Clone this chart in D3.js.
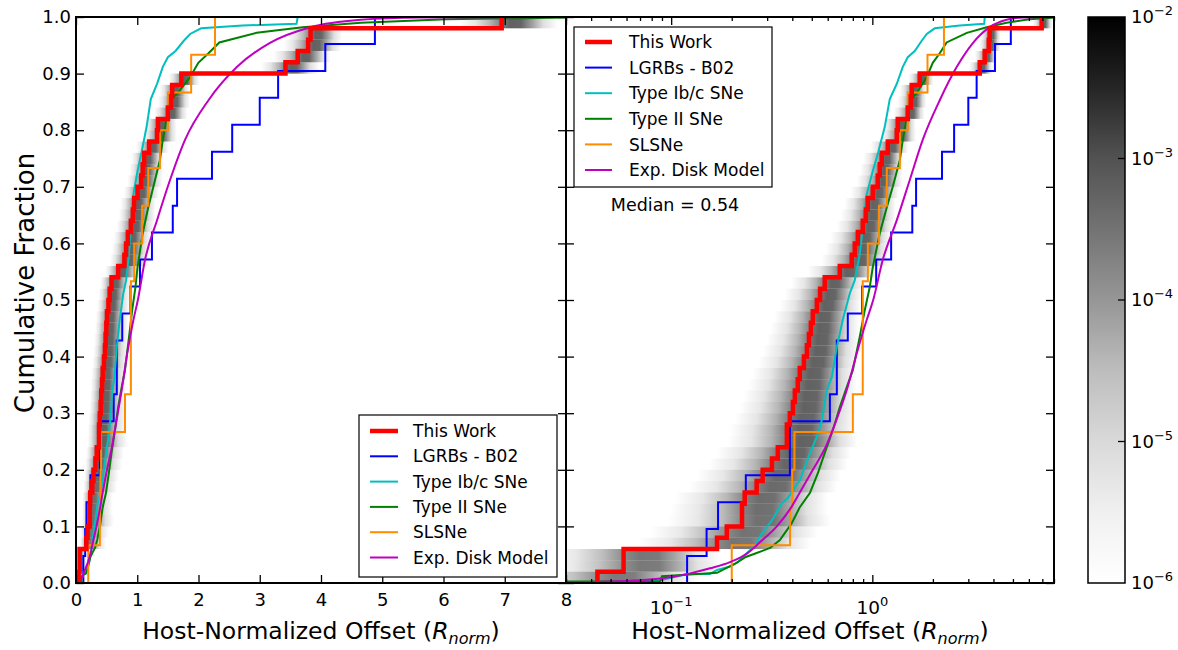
<!DOCTYPE html>
<html><head><meta charset="utf-8">
<script src="https://cdn.jsdelivr.net/npm/d3@7"></script>
<style>
body{margin:0;background:#fff;}
svg text{font-family:"DejaVu Sans","Liberation Sans",sans-serif;fill:#000;}
</style></head><body>
<svg id="c" width="1178" height="650"></svg>
<script>
// ---------------- data ----------------
const seriesNames = ["This Work","LGRBs - B02","Type Ib/c SNe","Type II SNe","SLSNe","Exp. Disk Model"];
// sorted offsets (R_norm) -> empirical CDFs
const thisWork = [0.043,0.058,0.058,0.169,0.189,0.225,0.225,0.232,0.266,0.285,0.317,0.339,0.376,0.376,0.389,0.403,0.412,0.426,0.436,0.457,0.473,0.484,0.495,0.506,0.53,0.55,0.58,0.689,0.79,0.818,0.847,0.896,0.928,0.949,1.005,1.064,1.089,1.114,1.194,1.323,1.338,1.50,1.552,1.570,1.72,3.42,3.62,3.79,3.83,6.95];
const lgrbB02 = [0.12,0.150,0.171,0.235,0.389,0.389,0.615,0.666,0.666,0.755,0.89,1.045,1.24,1.58,1.65,2.22,2.55,3.0,3.30,4.07,4.88];
const slsne = [0.20,0.39,0.40,0.41,0.80,0.896,0.896,0.896,0.95,1.08,1.18,1.37,1.50,1.88,2.27];
// [offset, cumulative fraction] pairs
const typeIbc = [[0.05,0],[0.088,0.005],[0.121,0.016],[0.156,0.016],[0.169,0.023],[0.196,0.029],[0.215,0.037],[0.227,0.046],[0.241,0.055],[0.261,0.066],[0.276,0.082],[0.299,0.099],[0.320,0.113],[0.339,0.129],[0.355,0.141],[0.380,0.150],[0.436,0.182],[0.489,0.229],[0.530,0.258],[0.561,0.288],[0.594,0.341],[0.629,0.364],[0.666,0.417],[0.713,0.465],[0.773,0.512],[0.818,0.535],[0.866,0.581],[0.938,0.687],[1.005,0.728],[1.064,0.758],[1.153,0.806],[1.221,0.855],[1.323,0.882],[1.417,0.912],[1.50,0.929],[1.625,0.94],[1.76,0.958],[1.864,0.970],[2.043,0.98],[2.72,0.985],[3.60,0.988],[3.62,1.0]];
const typeII = [[0.01,0.002],[0.088,0.003],[0.09,0.012],[0.169,0.018],[0.21,0.035],[0.235,0.046],[0.266,0.053],[0.31,0.062],[0.347,0.076],[0.37,0.09],[0.398,0.106],[0.436,0.134],[0.489,0.159],[0.536,0.194],[0.58,0.23],[0.636,0.27],[0.689,0.311],[0.746,0.346],[0.80,0.376],[0.866,0.435],[0.917,0.482],[0.971,0.523],[1.005,0.558],[1.089,0.618],[1.18,0.664],[1.263,0.70],[1.369,0.747],[1.417,0.783],[1.483,0.823],[1.535,0.853],[1.663,0.866],[1.864,0.894],[1.997,0.919],[2.163,0.936],[2.34,0.955],[2.95,0.972],[3.70,0.982],[4.65,0.99],[6.05,0.996],[8.0,0.999]];
const expDisk = [[0.03,0.001],[0.07,0.005],[0.102,0.011],[0.124,0.017],[0.156,0.026],[0.196,0.037],[0.238,0.052],[0.276,0.072],[0.335,0.1],[0.389,0.13],[0.436,0.16],[0.506,0.2],[0.594,0.245],[0.666,0.29],[0.746,0.341],[0.837,0.406],[0.938,0.465],[1.01,0.5],[1.127,0.571],[1.323,0.641],[1.535,0.712],[1.78,0.783],[2.163,0.853],[2.63,0.912],[3.16,0.954],[3.83,0.982],[4.65,0.995],[5.59,0.999],[8,1.0]];
const medianValue = 0.54;
// ticks
const yTicks = [0,0.1,0.2,0.3,0.4,0.5,0.6,0.7,0.8,0.9,1.0];
const xTicksLin = [0,1,2,3,4,5,6,7,8];
const xTicksLogMajor = [0.1,1];
const xTicksLogMajorLabels = ["\u22121","0"];
const xTicksLogMinor = [0.03,0.04,0.05,0.06,0.07,0.08,0.09,0.2,0.3,0.4,0.5,0.6,0.7,0.8,0.9,2,3,4,5,6,7,8];
const cbarTicks = [1e-2,1e-3,1e-4,1e-5,1e-6];
const cbarExps = ["\u22122","\u22123","\u22124","\u22125","\u22126"];

// ---------------- layout ----------------
const svg = d3.select("#c");
const TOP = 17, BOT = 583;
const xL = d3.scaleLinear().domain([0,8]).range([76,566]);
const xR = d3.scaleLog().domain([0.03,8]).range([566,1054]);
const y = d3.scaleLinear().domain([0,1]).range([BOT,TOP]);
const panels = [{id:"L",x:xL,x0:76,x1:566},{id:"R",x:xR,x0:566,x1:1054}];
const colors = ["#ff0000","#0000ff","#00bfbf","#008000","#ff8c00","#bf00bf"];
const widths = [4.5,2,2,2,2,2];

const defs = svg.append("defs");
panels.forEach(p=>{
  defs.append("clipPath").attr("id","clip"+p.id).append("rect")
    .attr("x",p.x0).attr("y",TOP).attr("width",p.x1-p.x0).attr("height",BOT-TOP);
});

const ecdf = vals => { const n = vals.length; const pts = [[vals[0],0]]; vals.forEach((v,i)=>pts.push([v,(i+1)/n])); return pts; };

// ---------------- Monte-Carlo cloud (grey cells around "This Work") ----------------
const dOff = [-0.3,-0.18,-0.08,0,0.06,0.13,0.2,0.27,0.36];
const dOp  = [0,0.12,0.35,0.62,0.74,0.72,0.45,0.15,0];
const N = thisWork.length;
panels.forEach(p=>{
  const g = svg.append("g").attr("clip-path",`url(#clip${p.id})`);
  thisWork.forEach((v,i)=>{
    const F = (i+1)/N, F0 = i/N;
    const s = 0.15 + 1.3*Math.pow(1-F,1.5);
    const fade = s>1 ? 1/Math.sqrt(s) : 1;
    const xs = dOff.map(d=>p.x(v*Math.pow(10,d*s)));
    const a = xs[0], b = xs[xs.length-1];
    if (b-a < 0.5) return;
    const gid = `gc${p.id}${i}`;
    const lg = defs.append("linearGradient").attr("id",gid).attr("gradientUnits","userSpaceOnUse")
      .attr("x1",a).attr("x2",b).attr("y1",0).attr("y2",0);
    xs.forEach((xx,j)=>lg.append("stop").attr("offset",(xx-a)/(b-a))
      .attr("stop-color","#2a2a2a").attr("stop-opacity",dOp[j]*fade));
    g.append("rect").attr("x",a).attr("width",b-a)
      .attr("y",y(F)).attr("height",y(F0)-y(F)).attr("fill",`url(#${gid})`);
  });
});

// ---------------- curves ----------------
const stepSeries = [[1,ecdf(lgrbB02),d3.curveStepAfter],[2,typeIbc,d3.curveLinear],[3,typeII,d3.curveLinear],
  [4,ecdf(slsne),d3.curveStepAfter],[5,expDisk,d3.curveMonotoneX],[0,ecdf(thisWork),d3.curveStepAfter]];
panels.forEach(p=>{
  const g = svg.append("g").attr("clip-path",`url(#clip${p.id})`);
  stepSeries.forEach(([ci,pts,curve])=>{
    const line = d3.line().x(d=>p.x(d[0])).y(d=>y(d[1])).curve(curve);
    g.append("path").attr("d",line(pts)).attr("fill","none")
      .attr("stroke",colors[ci]).attr("stroke-width",widths[ci]).attr("stroke-linejoin","miter");
  });
});

// ---------------- axes ----------------
function styleAxis(g){ g.select(".domain").remove(); g.selectAll(".tick line").attr("stroke","#000").attr("stroke-width",1.3); g.selectAll(".tick text").attr("font-size",18).attr("font-family","DejaVu Sans"); }
// left panel
svg.append("g").attr("transform",`translate(76,0)`).call(d3.axisLeft(y).tickValues(yTicks).tickSizeInner(-8).tickSizeOuter(0).tickPadding(5).tickFormat(d3.format(".1f"))).call(styleAxis);
svg.append("g").attr("transform",`translate(566,0)`).call(d3.axisRight(y).tickValues(yTicks).tickSizeInner(-8).tickSizeOuter(0).tickFormat("")).call(styleAxis);
svg.append("g").attr("transform",`translate(0,${BOT})`).call(d3.axisBottom(xL).tickValues(xTicksLin).tickSizeInner(-8).tickSizeOuter(0).tickPadding(10).tickFormat(d3.format("d"))).call(styleAxis);
svg.append("g").attr("transform",`translate(0,${TOP})`).call(d3.axisTop(xL).tickValues(xTicksLin).tickSizeInner(-8).tickSizeOuter(0).tickFormat("")).call(styleAxis);
// right panel
svg.append("g").attr("transform",`translate(566,0)`).call(d3.axisLeft(y).tickValues(yTicks).tickSizeInner(-8).tickSizeOuter(0).tickFormat("")).call(styleAxis);
svg.append("g").attr("transform",`translate(1054,0)`).call(d3.axisRight(y).tickValues(yTicks).tickSizeInner(-8).tickSizeOuter(0).tickFormat("")).call(styleAxis);
[[BOT,d3.axisBottom],[TOP,d3.axisTop]].forEach(([yy,ax])=>{
  svg.append("g").attr("transform",`translate(0,${yy})`).call(ax(xR).tickValues(xTicksLogMajor).tickSizeInner(-8).tickSizeOuter(0).tickFormat("")).call(styleAxis);
  svg.append("g").attr("transform",`translate(0,${yy})`).call(ax(xR).tickValues(xTicksLogMinor).tickSizeInner(-4).tickSizeOuter(0).tickFormat("")).call(styleAxis);
});
xTicksLogMajor.forEach((v,i)=>{
  const t = svg.append("text").attr("x",xR(v)).attr("y",614).attr("text-anchor","middle").attr("font-size",18.5);
  t.append("tspan").text("10");
  t.append("tspan").attr("font-size",13).attr("dy",-8).text(xTicksLogMajorLabels[i]);
});
// frames
panels.forEach(p=>svg.append("rect").attr("x",p.x0).attr("y",TOP).attr("width",p.x1-p.x0).attr("height",BOT-TOP)
  .attr("fill","none").attr("stroke","#000").attr("stroke-width",2));

// axis titles
function xTitle(cx){
  const t = svg.append("text").attr("x",cx).attr("y",639).attr("text-anchor","middle").attr("font-size",23.5);
  t.append("tspan").text("Host-Normalized Offset (");
  t.append("tspan").attr("font-style","italic").text("R");
  t.append("tspan").attr("font-style","italic").attr("font-size",16).attr("dy",5).text("norm");
  t.append("tspan").attr("dy",-5).text(")");
}
xTitle(321); xTitle(810);
svg.append("text").attr("transform","translate(34,283) rotate(-90)").attr("text-anchor","middle").attr("font-size",26).text("Cumulative Fraction");

// ---------------- legends ----------------
function legend(bx,by,w,h,lx0,lx1,tx,ry0,dy){
  svg.append("rect").attr("x",bx).attr("y",by).attr("width",w).attr("height",h).attr("fill","#fff").attr("stroke","#000").attr("stroke-width",1.2);
  seriesNames.forEach((nm,i)=>{
    const yy = ry0 + i*dy;
    svg.append("line").attr("x1",lx0).attr("x2",lx1).attr("y1",yy).attr("y2",yy).attr("stroke",colors[i]).attr("stroke-width",i===0?4.5:2);
    svg.append("text").attr("x",tx).attr("y",yy).attr("dy","0.36em").attr("font-size",17).text(nm);
  });
}
legend(359,415,198,162,370,398,413,431,25.3);
legend(574,27,198,160,585,612,629,42,25.6);
svg.append("text").attr("x",675).attr("y",205).attr("dy","0.36em").attr("text-anchor","middle").attr("font-size",17.5).text("Median = " + medianValue.toFixed(2));

// ---------------- colorbar ----------------
const cb = d3.scaleLog().domain([1e-6,1e-2]).range([BOT,TOP]);
const cg = defs.append("linearGradient").attr("id","cbg").attr("x1",0).attr("x2",0).attr("y1",1).attr("y2",0);
["#ffffff","#f0f0f0","#d9d9d9","#bdbdbd","#969696","#737373","#525252","#252525","#000000"].forEach((c,i)=>cg.append("stop").attr("offset",i/8).attr("stop-color",c));
svg.append("rect").attr("x",1088).attr("y",TOP).attr("width",37).attr("height",BOT-TOP).attr("fill","url(#cbg)").attr("stroke","#000").attr("stroke-width",1.5);
cbarTicks.forEach((v,i)=>{
  const yy = cb(v);
  if (i>0 && i<cbarTicks.length-1) svg.append("line").attr("x1",1118).attr("x2",1125).attr("y1",yy).attr("y2",yy).attr("stroke","#000").attr("stroke-width",1.3);
  const t = svg.append("text").attr("x",1131).attr("y",yy).attr("dy","0.36em").attr("font-size",18);
  t.append("tspan").text("10");
  t.append("tspan").attr("font-size",13).attr("dy",-8).text(cbarExps[i]);
});
</script>
</body></html>
